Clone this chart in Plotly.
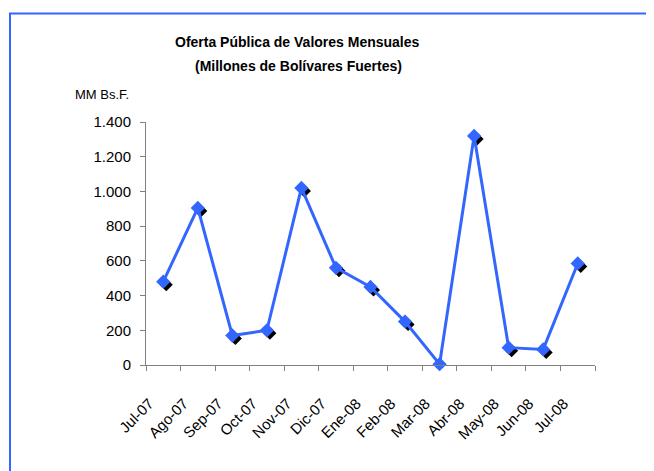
import plotly.graph_objects as go

months = ["Jul-07", "Ago-07", "Sep-07", "Oct-07", "Nov-07", "Dic-07", "Ene-08",
          "Feb-08", "Mar-08", "Abr-08", "May-08", "Jun-08", "Jul-08"]
values = [480, 905, 170, 200, 1020, 560, 450, 250, 5, 1320, 100, 90, 585]
y_ticks = [0, 200, 400, 600, 800, 1000, 1200, 1400]

OFF = 8  # page body margin
W, H = 654 - OFF, 471 - OFF
L, R, T, B = 146 - OFF, 59, 122 - OFF, 106
pw, ph = W - L - R, H - T - B
ymax = 1400
n = len(months)
catw = pw / n
dx, dy = 3, 3  # shadow offset in px

font = "Liberation Sans, Arial, sans-serif"


def px(x):
    return (x - OFF - L) / pw


def py(y):
    return (T + ph - (y - OFF)) / ph


fig = go.Figure()
# shadow markers (drawn on shifted, hidden axes)
fig.add_trace(go.Scatter(x=months, y=values, mode="markers", xaxis="x", yaxis="y",
                         marker=dict(symbol="diamond", size=10, color="black"),
                         cliponaxis=False, hoverinfo="skip", showlegend=False))
# main series
fig.add_trace(go.Scatter(x=months, y=values, mode="lines+markers", xaxis="x2", yaxis="y2",
                         line=dict(color="#3366FF", width=3),
                         marker=dict(symbol="diamond", size=11, color="#3366FF"),
                         cliponaxis=False, showlegend=False))

fig.update_layout(
    width=W, height=H,
    margin=dict(l=L, r=R, t=T, b=B),
    paper_bgcolor="white", plot_bgcolor="white",
    separators=",.",
    font=dict(family=font, color="black", size=14),
    xaxis=dict(type="category", categoryarray=months,
               range=[-0.5 - dx / catw, n - 0.5 - dx / catw],
               visible=False),
    yaxis=dict(range=[dy * ymax / ph, ymax + dy * ymax / ph], visible=False),
    xaxis2=dict(type="category", categoryarray=months, overlaying="x", anchor="y2",
                range=[-0.5, n - 0.5], tickson="boundaries",
                showline=True, linecolor="#808080", linewidth=1,
                ticks="outside", ticklen=5, tickcolor="#808080",
                tickangle=-45, showgrid=False, zeroline=False,
                ticklabelshift=-14, ticklabelstandoff=23,
                tickfont=dict(size=15, color="black")),
    yaxis2=dict(range=[0, ymax], overlaying="y", anchor="x2", side="left",
                tickvals=y_ticks, tickformat=",d",
                showline=True, linecolor="#808080", linewidth=1,
                ticks="outside", ticklen=5, tickcolor="#808080",
                showgrid=False, zeroline=False, ticklabelstandoff=6,
                tickfont=dict(size=15, color="black")),
    shapes=[dict(type="rect", xref="paper", yref="paper",
                 x0=px(10), x1=px(680),
                 y0=py(490), y1=py(13.5),
                 line=dict(color="#3366FF", width=2), layer="below")],
    annotations=[
        dict(text="<b>Oferta Pública de Valores Mensuales</b>", xref="paper", yref="paper",
             x=px(297), y=py(42), showarrow=False,
             xanchor="center", yanchor="middle", font=dict(size=14)),
        dict(text="<b>(Millones de Bolívares Fuertes)</b>", xref="paper", yref="paper",
             x=px(298), y=py(66), showarrow=False,
             xanchor="center", yanchor="middle", font=dict(size=14)),
        dict(text="MM Bs.F.", xref="paper", yref="paper",
             x=px(73), y=py(95), showarrow=False,
             xanchor="left", yanchor="middle", font=dict(size=13)),
    ],
)

fig.write_html("out.html")
